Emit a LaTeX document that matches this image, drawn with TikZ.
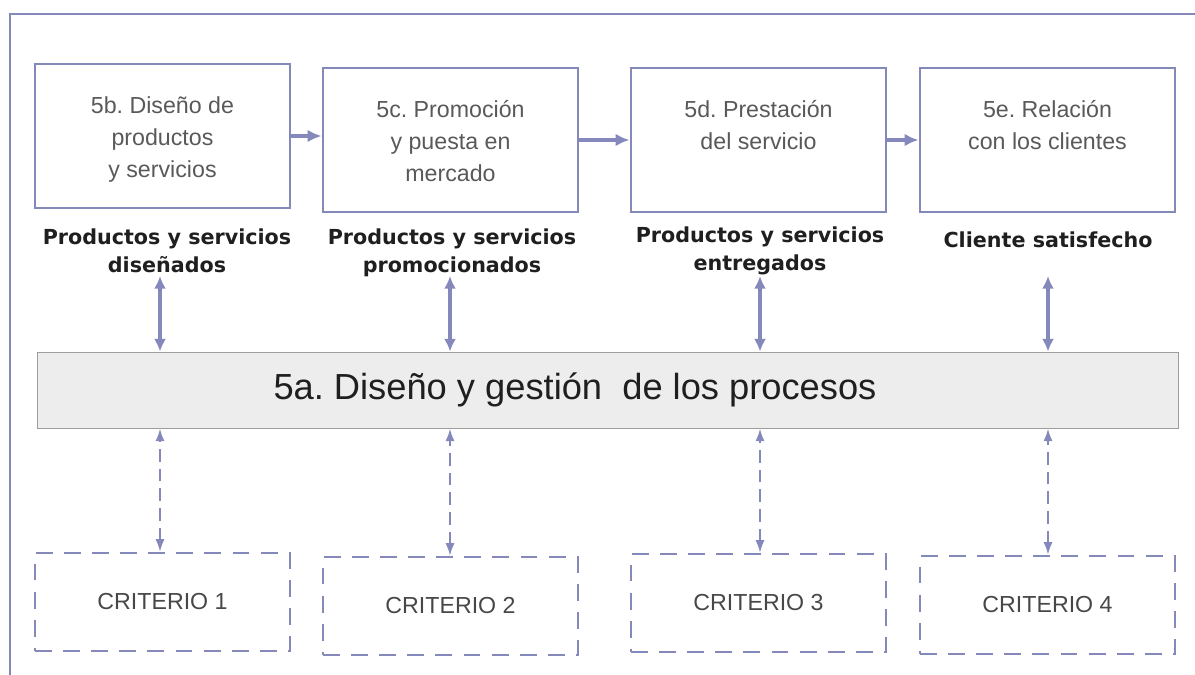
\documentclass[tikz,border=0pt]{standalone}
\usepackage{fontspec}
\setmainfont{Liberation Sans}
\newfontfamily\lblfont{DejaVu Sans}
\usetikzlibrary{arrows.meta,positioning}
\frenchspacing
\definecolor{lav}{RGB}{132,136,186}
\definecolor{barfill}{RGB}{236,237,236}
\definecolor{barline}{RGB}{158,158,158}
\tikzset{
  procbox/.style={draw=lav, line width=2pt, minimum width=6.375cm, minimum height=3.6cm, inner sep=0pt},
  proctext/.style={align=center, text=black!65, font=\fontsize{16.5}{22.7}\selectfont, inner sep=0pt},
  outlbl/.style={align=center, text=black!88, font=\lblfont\bfseries\fontsize{14.7}{19.8}\selectfont, inner sep=0pt},
  critbox/.style={draw=lav, line width=1.6pt, dash pattern=on 12pt off 8pt, minimum width=6.375cm, minimum height=2.45cm, text=black!72, font=\fontsize{16.5}{20}\selectfont},
  flow/.style={-{Latex[length=10pt,width=9pt]}, draw=lav, line width=2.8pt},
  link/.style={{Latex[length=9pt,width=8.5pt]}-{Latex[length=9pt,width=8.5pt]}, draw=lav, line width=2.8pt},
  dlink/.style={{Latex[length=9pt,width=6.5pt]}-{Latex[length=9pt,width=6.5pt]}, draw=lav, line width=1.6pt, dash pattern=on 9pt off 5pt},
}
\begin{document}
\begin{tikzpicture}[x=0.025cm, y=-0.025cm]
\useasboundingbox (0,0) rectangle (1195,675);
\clip (0,0) rectangle (1195,675);
% frame
\draw[lav, line width=1.4pt] (10,14) rectangle (1210,690);

% process boxes
\node[procbox] (b5b) at (162.5,136) {};
\node[procbox] (b5c) at (450.5,140) {};
\node[procbox] (b5d) at (758.5,140) {};
\node[procbox] (b5e) at (1047.5,140) {};
\node[proctext, below=0.85cm of b5b.north] (t5b) {5b. Diseño de\\productos\\y servicios};
\node[proctext, below=0.85cm of b5c.north] (t5c) {5c. Promoción\\y puesta en\\mercado};
\node[proctext, below=0.85cm of b5d.north] (t5d) {5d. Prestación\\del servicio};
\node[proctext, below=0.85cm of b5e.north] (t5e) {5e. Relación\\con los clientes};

\draw[flow] (b5b.east) -- (b5b.east -| b5c.west);
\draw[flow] (b5c.east) -- (b5c.east -| b5d.west);
\draw[flow] (b5d.east) -- (b5d.east -| b5e.west);

% outputs
\node[outlbl] (o5b) at (167,251) {Productos y servicios\\diseñados};
\node[outlbl] (o5c) at (452,253) {Productos y servicios\\promocionados};
\node[outlbl] (o5d) at (760,251) {Productos y servicios\\entregados};
\node[outlbl] (o5e) at (1048,240) {Cliente satisfecho};

% processes bar
\node[draw=barline, fill=barfill, line width=0.6pt, minimum width=28.5cm, minimum height=1.9cm] (bar) at (608,390) {};
\node[text=black!88, font=\fontsize{25.8}{30}\selectfont, inner sep=0pt] (bartxt) at (575,390) {5a. Diseño y gestión\ \ de los procesos};

\coordinate (u5b) at (160,276);
\coordinate (u5c) at (450,276);
\coordinate (u5d) at (760,276);
\coordinate (u5e) at (1048,276);
\draw[link] (u5b) -- (u5b |- bar.north);
\draw[link] (u5c) -- (u5c |- bar.north);
\draw[link] (u5d) -- (u5d |- bar.north);
\draw[link] (u5e) -- (u5e |- bar.north);

% criteria
\node[critbox] (c1) at (162.5,602) {CRITERIO 1};
\node[critbox] (c2) at (450.5,606) {CRITERIO 2};
\node[critbox] (c3) at (758.5,603) {CRITERIO 3};
\node[critbox] (c4) at (1047.5,605) {CRITERIO 4};
\draw[dlink] (c1.north -| u5b) -- (u5b |- bar.south);
\draw[dlink] (c2.north -| u5c) -- (u5c |- bar.south);
\draw[dlink] (c3.north -| u5d) -- (u5d |- bar.south);
\draw[dlink] (c4.north -| u5e) -- (u5e |- bar.south);
\end{tikzpicture}
\end{document}
